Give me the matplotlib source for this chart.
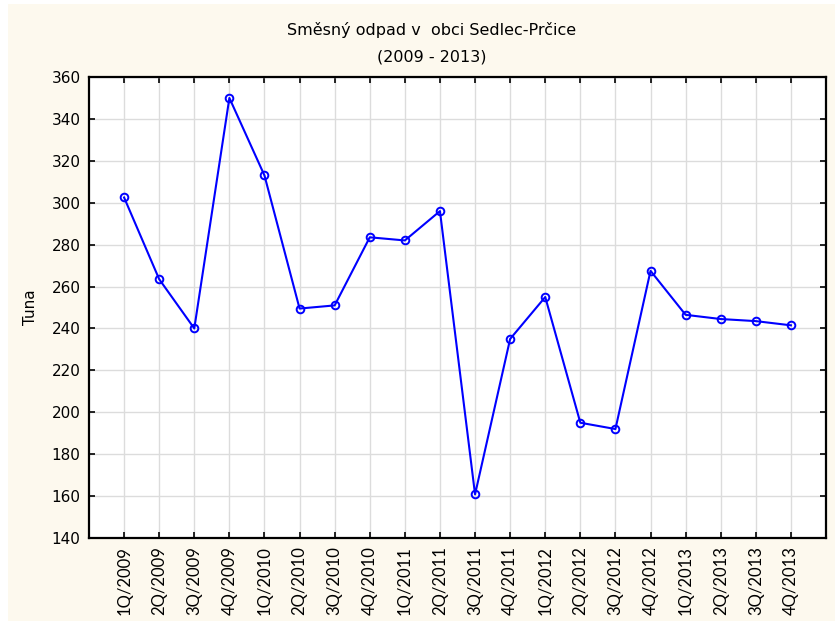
import matplotlib
matplotlib.use("Agg")
import matplotlib.pyplot as plt
from matplotlib.patches import Rectangle

# quarterly mixed waste, tonnes
quarters = ["1Q/2009", "2Q/2009", "3Q/2009", "4Q/2009",
            "1Q/2010", "2Q/2010", "3Q/2010", "4Q/2010",
            "1Q/2011", "2Q/2011", "3Q/2011", "4Q/2011",
            "1Q/2012", "2Q/2012", "3Q/2012", "4Q/2012",
            "1Q/2013", "2Q/2013", "3Q/2013", "4Q/2013"]
tuna = [302.5, 263.5, 240.0, 350.0,
        313.0, 249.5, 251.0, 283.5,
        282.0, 296.0, 160.8, 235.0,
        255.0, 195.0, 192.0, 267.5,
        246.5, 244.5, 243.5, 241.5]
y_ticks = list(range(140, 361, 20))

fig = plt.figure(figsize=(8.35, 6.23), dpi=100)
fig.patch.set_facecolor("white")
# cream panel behind the chart
fig.add_artist(Rectangle((8 / 835, 2 / 623), 1 - 8 / 835, 617 / 623,
                         transform=fig.transFigure, facecolor="#fdf9ee",
                         edgecolor="none", zorder=0))

ax = fig.add_axes([89 / 835, 1 - 538 / 623, (826 - 89) / 835, (538 - 77) / 623])
ax.set_facecolor("white")

x = list(range(len(quarters)))
ax.plot(x, tuna, color="#0000ff", lw=1.5, marker="o", ms=5.5,
        mfc="none", mec="#0000ff", mew=1.4, zorder=3)

ax.set_xlim(-1, len(quarters))
ax.set_ylim(140, 360)
ax.set_yticks(y_ticks)
ax.set_xticks(x)
ax.set_xticklabels(quarters, rotation=90, fontsize=12, family="Lato")
for lab in ax.get_yticklabels():
    lab.set_fontsize(11)
    lab.set_family("DejaVu Sans")

ax.grid(True, color="#dcdcdc", lw=1.0)
ax.set_axisbelow(True)
ax.tick_params(direction="in", length=4, width=1.2, top=True, right=True,
               color="black")
ax.tick_params(axis="x", pad=6)
ax.tick_params(axis="y", pad=6)
for s in ax.spines.values():
    s.set_linewidth(1.6)
    s.set_color("black")

ax.set_ylabel("Tuna", fontsize=11, family="DejaVu Sans", labelpad=10)

fig.text(0.517, 1 - 30 / 623, "Směsný odpad v  obci Sedlec-Prčice",
         ha="center", va="center", fontsize=11.5, family="DejaVu Sans")
fig.text(0.517, 1 - 57 / 623, "(2009 - 2013)",
         ha="center", va="center", fontsize=11.5, family="DejaVu Sans")

fig.savefig("out.png", dpi=100, facecolor=fig.get_facecolor())
